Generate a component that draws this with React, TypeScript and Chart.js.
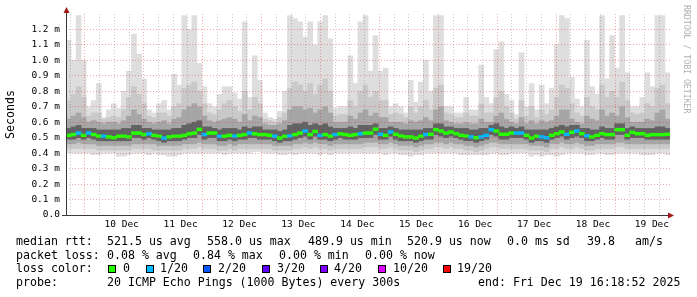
import React, { useEffect, useRef } from 'react';
import { Chart, registerables } from 'chart.js';

Chart.register(...registerables);

const MONO = '"DejaVu Sans Mono", monospace';

// ---- data: 120 two-hour bins, values in milliseconds ----
const maxRtt = [
  1.13, 1.0, 1.29, 1.0, 0.7, 0.74, 0.85, 0.63, 0.68, 0.72, 0.69, 0.8, 0.93, 1.17, 1.04, 0.88, 0.68, 0.66, 0.72, 0.74, 0.68, 0.91, 0.84, 1.29, 1.2, 1.29, 0.98, 0.83, 0.72, 0.7,
  0.78, 0.83, 0.83, 0.79, 0.75, 1.25, 0.76, 1.03, 0.87, 0.66, 0.63, 0.62, 0.67, 0.8, 1.29, 1.27, 1.25, 1.15, 1.25, 1.1, 1.25, 1.29, 1.14, 0.69, 0.7, 0.7, 1.03, 0.85, 1.25, 1.29,
  0.93, 1.16, 0.93, 0.95, 0.7, 0.72, 0.7, 0.66, 0.87, 0.73, 0.86, 1.0, 0.8, 1.29, 1.29, 0.7, 0.7, 0.66, 0.66, 0.76, 0.68, 0.68, 0.97, 0.76, 0.72, 1.07, 1.12, 0.78, 0.74, 0.65,
  1.05, 0.7, 0.85, 0.68, 0.84, 0.72, 0.82, 1.1, 1.29, 1.27, 0.89, 0.75, 0.7, 1.13, 0.83, 0.78, 1.29, 0.88, 1.16, 0.95, 1.29, 0.92, 0.7, 0.7, 0.76, 0.92, 0.83, 1.29, 1.29, 0.92,
];
const p90 = [
  0.74, 0.78, 0.83, 0.76, 0.64, 0.66, 0.66, 0.62, 0.63, 0.64, 0.63, 0.68, 0.76, 0.83, 0.78, 0.72, 0.64, 0.63, 0.66, 0.66, 0.64, 0.7, 0.72, 0.82, 0.84, 0.86, 0.8, 0.72, 0.66, 0.65,
  0.68, 0.72, 0.74, 0.7, 0.67, 0.8, 0.68, 0.76, 0.72, 0.62, 0.61, 0.6, 0.63, 0.66, 0.82, 0.86, 0.84, 0.8, 0.85, 0.78, 0.84, 0.88, 0.8, 0.64, 0.65, 0.65, 0.74, 0.7, 0.8, 0.84,
  0.76, 0.8, 0.74, 0.74, 0.65, 0.66, 0.65, 0.63, 0.7, 0.66, 0.7, 0.74, 0.68, 0.82, 0.84, 0.66, 0.65, 0.63, 0.63, 0.66, 0.64, 0.64, 0.72, 0.66, 0.66, 0.76, 0.8, 0.7, 0.66, 0.62,
  0.74, 0.64, 0.7, 0.63, 0.68, 0.65, 0.68, 0.76, 0.84, 0.82, 0.72, 0.66, 0.64, 0.76, 0.7, 0.68, 0.84, 0.76, 0.8, 0.76, 0.86, 0.74, 0.66, 0.65, 0.66, 0.72, 0.7, 0.82, 0.84, 0.72,
];
const p75 = [
  0.62, 0.64, 0.66, 0.63, 0.6, 0.61, 0.6, 0.59, 0.6, 0.6, 0.59, 0.61, 0.64, 0.68, 0.65, 0.62, 0.6, 0.59, 0.6, 0.61, 0.59, 0.62, 0.63, 0.68, 0.7, 0.72, 0.7, 0.64, 0.61, 0.6,
  0.61, 0.62, 0.63, 0.62, 0.6, 0.65, 0.61, 0.64, 0.63, 0.59, 0.58, 0.58, 0.59, 0.61, 0.68, 0.7, 0.7, 0.68, 0.69, 0.66, 0.68, 0.7, 0.66, 0.6, 0.6, 0.6, 0.64, 0.62, 0.66, 0.68,
  0.64, 0.66, 0.63, 0.63, 0.6, 0.6, 0.6, 0.59, 0.61, 0.6, 0.61, 0.63, 0.61, 0.68, 0.7, 0.61, 0.6, 0.59, 0.59, 0.6, 0.59, 0.59, 0.62, 0.6, 0.6, 0.64, 0.66, 0.62, 0.6, 0.59,
  0.63, 0.59, 0.61, 0.59, 0.61, 0.6, 0.61, 0.64, 0.68, 0.68, 0.62, 0.6, 0.59, 0.64, 0.62, 0.61, 0.68, 0.64, 0.66, 0.64, 0.7, 0.63, 0.6, 0.6, 0.6, 0.62, 0.61, 0.66, 0.68, 0.62,
];
const p60 = [
  0.56, 0.57, 0.58, 0.56, 0.56, 0.56, 0.55, 0.55, 0.55, 0.55, 0.55, 0.56, 0.56, 0.58, 0.58, 0.56, 0.56, 0.55, 0.55, 0.55, 0.55, 0.56, 0.56, 0.58, 0.59, 0.6, 0.61, 0.57, 0.57, 0.56,
  0.55, 0.56, 0.56, 0.56, 0.55, 0.57, 0.56, 0.57, 0.57, 0.55, 0.55, 0.55, 0.54, 0.55, 0.58, 0.59, 0.59, 0.6, 0.58, 0.59, 0.58, 0.59, 0.57, 0.56, 0.56, 0.56, 0.57, 0.56, 0.58, 0.58,
  0.58, 0.59, 0.56, 0.56, 0.57, 0.56, 0.55, 0.55, 0.55, 0.55, 0.55, 0.56, 0.56, 0.59, 0.59, 0.57, 0.57, 0.56, 0.56, 0.56, 0.55, 0.55, 0.56, 0.56, 0.58, 0.59, 0.57, 0.56, 0.57, 0.56,
  0.57, 0.55, 0.55, 0.55, 0.55, 0.55, 0.56, 0.57, 0.58, 0.57, 0.58, 0.58, 0.56, 0.56, 0.55, 0.55, 0.57, 0.56, 0.56, 0.59, 0.59, 0.56, 0.57, 0.56, 0.56, 0.56, 0.56, 0.57, 0.57, 0.56,
];
const median = [
  0.515, 0.52, 0.53, 0.515, 0.53, 0.52, 0.51, 0.509, 0.505, 0.5, 0.509, 0.51, 0.505, 0.53, 0.53, 0.52, 0.525, 0.515, 0.509, 0.498, 0.505, 0.509, 0.509, 0.515, 0.525, 0.53, 0.554, 0.52, 0.53, 0.53,
  0.509, 0.509, 0.515, 0.51, 0.515, 0.52, 0.53, 0.525, 0.52, 0.52, 0.515, 0.509, 0.498, 0.509, 0.512, 0.52, 0.53, 0.543, 0.52, 0.54, 0.515, 0.52, 0.51, 0.52, 0.525, 0.52, 0.515, 0.52, 0.525, 0.53,
  0.53, 0.555, 0.522, 0.515, 0.537, 0.522, 0.511, 0.505, 0.505, 0.498, 0.509, 0.52, 0.522, 0.552, 0.543, 0.53, 0.537, 0.526, 0.515, 0.511, 0.505, 0.5, 0.505, 0.515, 0.552, 0.543, 0.522, 0.522, 0.53, 0.53,
  0.53, 0.515, 0.498, 0.509, 0.505, 0.5, 0.515, 0.526, 0.537, 0.522, 0.535, 0.543, 0.526, 0.512, 0.505, 0.515, 0.526, 0.52, 0.52, 0.552, 0.552, 0.515, 0.535, 0.526, 0.526, 0.515, 0.52, 0.52, 0.52, 0.522,
];
const p40 = [
  0.49, 0.49, 0.5, 0.49, 0.5, 0.49, 0.48, 0.48, 0.48, 0.48, 0.48, 0.48, 0.48, 0.5, 0.5, 0.49, 0.5, 0.49, 0.48, 0.47, 0.48, 0.48, 0.48, 0.49, 0.5, 0.5, 0.52, 0.49, 0.5, 0.5,
  0.48, 0.48, 0.49, 0.48, 0.49, 0.49, 0.5, 0.5, 0.49, 0.49, 0.49, 0.48, 0.47, 0.48, 0.48, 0.49, 0.5, 0.51, 0.49, 0.51, 0.49, 0.49, 0.48, 0.49, 0.5, 0.49, 0.49, 0.49, 0.5, 0.5,
  0.5, 0.52, 0.49, 0.49, 0.51, 0.49, 0.48, 0.48, 0.48, 0.47, 0.48, 0.49, 0.49, 0.52, 0.51, 0.5, 0.51, 0.5, 0.49, 0.48, 0.48, 0.47, 0.48, 0.49, 0.52, 0.51, 0.49, 0.49, 0.5, 0.5,
  0.5, 0.49, 0.47, 0.48, 0.48, 0.47, 0.49, 0.5, 0.51, 0.49, 0.5, 0.51, 0.5, 0.48, 0.48, 0.49, 0.5, 0.49, 0.49, 0.52, 0.52, 0.49, 0.5, 0.5, 0.5, 0.49, 0.49, 0.49, 0.49, 0.49,
];
const p25 = [
  0.46, 0.46, 0.47, 0.46, 0.46, 0.46, 0.45, 0.45, 0.45, 0.45, 0.45, 0.45, 0.45, 0.46, 0.46, 0.46, 0.46, 0.46, 0.45, 0.45, 0.45, 0.45, 0.45, 0.46, 0.46, 0.46, 0.47, 0.46, 0.46, 0.46,
  0.45, 0.45, 0.46, 0.45, 0.46, 0.46, 0.46, 0.46, 0.46, 0.46, 0.46, 0.45, 0.45, 0.45, 0.45, 0.46, 0.46, 0.47, 0.46, 0.47, 0.46, 0.46, 0.45, 0.46, 0.46, 0.46, 0.46, 0.46, 0.46, 0.47,
  0.47, 0.47, 0.46, 0.46, 0.47, 0.46, 0.45, 0.45, 0.45, 0.44, 0.45, 0.46, 0.46, 0.47, 0.47, 0.46, 0.47, 0.46, 0.46, 0.45, 0.45, 0.44, 0.45, 0.46, 0.47, 0.47, 0.46, 0.46, 0.46, 0.46,
  0.46, 0.46, 0.45, 0.45, 0.45, 0.44, 0.46, 0.46, 0.47, 0.46, 0.46, 0.47, 0.46, 0.45, 0.45, 0.46, 0.46, 0.46, 0.46, 0.47, 0.47, 0.46, 0.46, 0.46, 0.46, 0.46, 0.46, 0.46, 0.46, 0.46,
];
const p10 = [
  0.43, 0.43, 0.43, 0.43, 0.43, 0.43, 0.42, 0.42, 0.42, 0.42, 0.42, 0.42, 0.42, 0.43, 0.43, 0.43, 0.43, 0.42, 0.42, 0.42, 0.42, 0.42, 0.42, 0.43, 0.43, 0.43, 0.44, 0.43, 0.43, 0.43,
  0.42, 0.42, 0.43, 0.42, 0.43, 0.43, 0.43, 0.43, 0.43, 0.43, 0.43, 0.42, 0.42, 0.42, 0.42, 0.43, 0.43, 0.44, 0.43, 0.44, 0.43, 0.43, 0.42, 0.43, 0.43, 0.43, 0.43, 0.43, 0.43, 0.44,
  0.44, 0.44, 0.43, 0.43, 0.44, 0.43, 0.42, 0.42, 0.42, 0.41, 0.42, 0.43, 0.43, 0.44, 0.44, 0.43, 0.44, 0.43, 0.43, 0.42, 0.42, 0.41, 0.42, 0.43, 0.44, 0.44, 0.43, 0.43, 0.43, 0.43,
  0.43, 0.43, 0.42, 0.42, 0.42, 0.41, 0.43, 0.43, 0.44, 0.43, 0.43, 0.44, 0.43, 0.42, 0.42, 0.43, 0.43, 0.43, 0.43, 0.44, 0.44, 0.43, 0.43, 0.43, 0.43, 0.43, 0.43, 0.43, 0.43, 0.43,
];
const minRtt = [
  0.4, 0.4, 0.4, 0.4, 0.4, 0.39, 0.39, 0.4, 0.4, 0.4, 0.38, 0.38, 0.39, 0.4, 0.4, 0.4, 0.39, 0.4, 0.39, 0.39, 0.38, 0.38, 0.39, 0.4, 0.4, 0.4, 0.4, 0.4, 0.4, 0.4,
  0.4, 0.39, 0.4, 0.4, 0.4, 0.4, 0.4, 0.41, 0.41, 0.4, 0.4, 0.4, 0.39, 0.39, 0.4, 0.39, 0.4, 0.4, 0.4, 0.4, 0.39, 0.4, 0.39, 0.4, 0.4, 0.4, 0.4, 0.4, 0.4, 0.4,
  0.4, 0.4, 0.4, 0.39, 0.4, 0.4, 0.39, 0.39, 0.38, 0.39, 0.39, 0.4, 0.4, 0.4, 0.4, 0.4, 0.4, 0.4, 0.39, 0.39, 0.39, 0.39, 0.39, 0.39, 0.4, 0.4, 0.39, 0.39, 0.4, 0.4,
  0.4, 0.4, 0.38, 0.39, 0.38, 0.39, 0.39, 0.38, 0.39, 0.4, 0.4, 0.4, 0.4, 0.39, 0.39, 0.4, 0.4, 0.39, 0.39, 0.4, 0.4, 0.4, 0.4, 0.4, 0.39, 0.39, 0.39, 0.4, 0.4, 0.39,
];
// lost pings (out of 20) per bin
const lossCount = [
  0, 0, 1, 0, 1, 0, 0, 1, 0, 0, 0, 0, 0, 0, 0, 0, 1, 0, 0, 1, 0, 0, 0, 0, 0, 0, 0, 1, 0, 0,
  1, 0, 0, 1, 0, 0, 1, 0, 0, 0, 0, 1, 0, 0, 1, 0, 0, 1, 0, 0, 1, 0, 0, 1, 0, 0, 0, 0, 1, 0,
  0, 0, 1, 0, 1, 0, 0, 0, 0, 0, 0, 1, 0, 0, 0, 0, 0, 0, 0, 0, 1, 0, 1, 1, 1, 0, 0, 0, 0, 1,
  1, 0, 0, 0, 1, 1, 0, 0, 0, 1, 0, 1, 0, 1, 0, 0, 0, 0, 0, 0, 0, 0, 0, 0, 0, 0, 0, 0, 0, 0,
];

const lossLegendLabels = ['0', '1/20', '2/20', '3/20', '4/20', '10/20', '19/20'];
const lossLegendCounts = [0, 1, 2, 3, 4, 10, 19];
const lossLegendColors = ['#26ff00', '#00b8ff', '#0059ff', '#5e00ff', '#7e00ff', '#dd00ff', '#ff0000'];

const dayLabels = ['10 Dec', '11 Dec', '12 Dec', '13 Dec', '14 Dec', '15 Dec', '16 Dec', '17 Dec', '18 Dec', '19 Dec'];
const yTickValues = [0, 0.1, 0.2, 0.3, 0.4, 0.5, 0.6, 0.7, 0.8, 0.9, 1.0, 1.1, 1.2];
const yTickLabels = ['0.0', '0.1 m', '0.2 m', '0.3 m', '0.4 m', '0.5 m', '0.6 m', '0.7 m', '0.8 m', '0.9 m', '1.0 m', '1.1 m', '1.2 m'];
// hours relative to 10 Dec 00:00
const xStartHour = -7.6;
const xEndHour = 232.3;
const gridHours = [
  -6, 0, 6, 12, 18, 24, 30, 36, 42, 48, 54, 60, 66, 72, 78, 84, 90, 96, 102, 108, 114, 120,
  126, 132, 138, 144, 150, 156, 162, 168, 174, 180, 186, 192, 198, 204, 210, 216, 222, 228,
];

const statsLine1 = [
  ['median rtt:', 16], ['521.5 us avg', 107], ['558.0 us max', 207], ['489.9 us min', 308],
  ['520.9 us now', 407], ['0.0 ms sd', 507], ['39.8', 587], ['am/s', 635],
];
const statsLine2 = [
  ['packet loss:', 16], ['0.08 % avg', 107], ['0.84 % max', 193], ['0.00 % min', 279], ['0.00 % now', 365],
];
const probeLine = [
  ['probe:', 16], ['20 ICMP Echo Pings (1000 Bytes) every 300s', 107], ['end: Fri Dec 19 16:18:52 2025', 478],
];
const lossLegendSquareX = [108, 146, 203, 262, 320, 378, 443];
const lossLegendTextX = [123, 160, 218, 277, 334, 393, 457];

const RED_GRID = 'rgba(225,40,40,0.40)';
const GRAY_GRID = 'rgba(110,110,110,0.38)';

const colorForLoss = (n: number) => {
  let c = lossLegendColors[0];
  for (let i = 0; i < lossLegendCounts.length; i++) {
    if (n >= lossLegendCounts[i]) c = lossLegendColors[i];
  }
  return c;
};

const decorPlugin = {
  id: 'smokeDecor',
  afterDraw(chart: any) {
    const ctx = chart.ctx;
    const a = chart.chartArea;
    ctx.save();
    // axes
    ctx.strokeStyle = '#3a3a3a';
    ctx.lineWidth = 1;
    ctx.beginPath();
    ctx.moveTo(a.left + 0.5, a.bottom);
    ctx.lineTo(a.left + 0.5, a.top - 3);
    ctx.moveTo(a.left - 4, a.bottom + 0.5);
    ctx.lineTo(a.right, a.bottom + 0.5);
    ctx.stroke();
    ctx.fillStyle = '#a01818';
    ctx.beginPath();
    ctx.moveTo(a.left + 0.5, a.top - 7);
    ctx.lineTo(a.left - 2.5, a.top - 1);
    ctx.lineTo(a.left + 3.5, a.top - 1);
    ctx.closePath();
    ctx.fill();
    ctx.beginPath();
    ctx.moveTo(a.right + 4, a.bottom + 0.5);
    ctx.lineTo(a.right - 2, a.bottom - 2.5);
    ctx.lineTo(a.right - 2, a.bottom + 3.5);
    ctx.closePath();
    ctx.fill();

    // statistics text
    ctx.font = '11.6px ' + MONO;
    ctx.fillStyle = '#000';
    ctx.textBaseline = 'middle';
    ctx.textAlign = 'left';
    const drawLine = (items: any[], y: number) => items.forEach(([t, x]) => ctx.fillText(t, x, y));
    drawLine(statsLine1, 241.5);
    drawLine(statsLine2, 255.5);
    ctx.fillText('loss color:', 16, 269);
    lossLegendLabels.forEach((lab, i) => {
      const sx = lossLegendSquareX[i];
      ctx.fillStyle = lossLegendColors[i];
      ctx.fillRect(sx, 265, 8, 8);
      ctx.strokeStyle = '#000';
      ctx.strokeRect(sx + 0.5, 265.5, 7, 7);
      ctx.fillStyle = '#000';
      ctx.fillText(lab, lossLegendTextX[i], 269);
    });
    drawLine(probeLine, 282.5);

    // watermark
    ctx.translate(686.5, 5);
    ctx.rotate(Math.PI / 2);
    ctx.font = '8.2px ' + MONO;
    ctx.fillStyle = '#b0b0b0';
    ctx.textBaseline = 'middle';
    ctx.fillText('RRDTOOL / TOBI OETIKER', 0, 0);
    ctx.restore();
  },
};

export default function App() {
  const ref = useRef<HTMLCanvasElement | null>(null);
  useEffect(() => {
    if (!ref.current) return;
    const labels = median.map((_, i) => String(i));
    const band = (lo: number[], hi: number[]) => lo.map((v, i) => [v, hi[i]]);
    const barCommon = {
      barPercentage: 1,
      categoryPercentage: 1,
      grouped: false,
      borderWidth: 0,
      borderSkipped: false,
      xAxisID: 'x',
      yAxisID: 'y',
    };
    const chart = new Chart(ref.current, {
      type: 'bar',
      data: {
        labels,
        datasets: [
          { ...barCommon, label: 'min-max', data: band(minRtt, maxRtt), backgroundColor: '#dedede', order: 5 },
          { ...barCommon, label: 'p10-p90', data: band(p10, p90), backgroundColor: '#c9c9c9', order: 4 },
          { ...barCommon, label: 'p25-p75', data: band(p25, p75), backgroundColor: '#a6a6a6', order: 3 },
          { ...barCommon, label: 'p40-p60', data: band(p40, p60), backgroundColor: '#626262', order: 2 },
          {
            ...barCommon,
            label: 'median',
            data: median.map((m) => [m - 0.009, m + 0.009]),
            backgroundColor: lossCount.map((n) => colorForLoss(n)),
            order: 0,
          },
        ],
      } as any,
      options: {
        responsive: false,
        animation: false,
        events: [],
        layout: { padding: { left: 0, right: 27, top: 14, bottom: 0 } },
        plugins: { legend: { display: false }, tooltip: { enabled: false } },
        scales: {
          x: { type: 'category', display: false, offset: true, grid: { display: false } },
          xt: {
            type: 'linear',
            position: 'bottom',
            min: xStartHour,
            max: xEndHour,
            afterBuildTicks: (s: any) => {
              s.ticks = gridHours.map((v) => ({ value: v }));
            },
            afterFit: (s: any) => {
              s.height = 82;
            },
            ticks: {
              autoSkip: false,
              maxRotation: 0,
              padding: 4,
              color: '#000',
              font: { family: MONO, size: 9.5 },
              callback: (v: any) => (v % 24 === 12 ? dayLabels[(v - 12) / 24] : ''),
            },
            grid: {
              z: 1,
              drawTicks: false,
              lineWidth: 1,
              color: (c: any) => (c.tick && c.tick.value % 24 === 0 ? RED_GRID : GRAY_GRID),
            },
            border: { display: false, dash: [1, 2] },
          },
          y: {
            type: 'linear',
            min: 0,
            max: 1.3,
            afterBuildTicks: (s: any) => {
              s.ticks = yTickValues.map((v) => ({ value: v }));
            },
            afterFit: (s: any) => {
              s.width = 66;
            },
            ticks: {
              padding: 6,
              color: '#000',
              font: { family: MONO, size: 9.5 },
              callback: (v: any) => {
                const i = yTickValues.findIndex((t) => Math.abs(t - v) < 1e-6);
                return i >= 0 ? yTickLabels[i] : '';
              },
            },
            grid: { z: 1, drawTicks: false, lineWidth: 1, color: RED_GRID },
            border: { display: false, dash: [1, 2] },
            title: {
              display: true,
              text: 'Seconds',
              color: '#000',
              font: { family: MONO, size: 11.6 },
              padding: { top: 4, bottom: 0 },
            },
          },
        },
      } as any,
      plugins: [decorPlugin],
    });
    return () => chart.destroy();
  }, []);
  return (
    <div style={{ position: 'absolute', left: 0, top: 0, width: 697, height: 297, background: '#fff' }}>
      <canvas ref={ref} width={697} height={297} style={{ display: 'block' }} />
    </div>
  );
}
